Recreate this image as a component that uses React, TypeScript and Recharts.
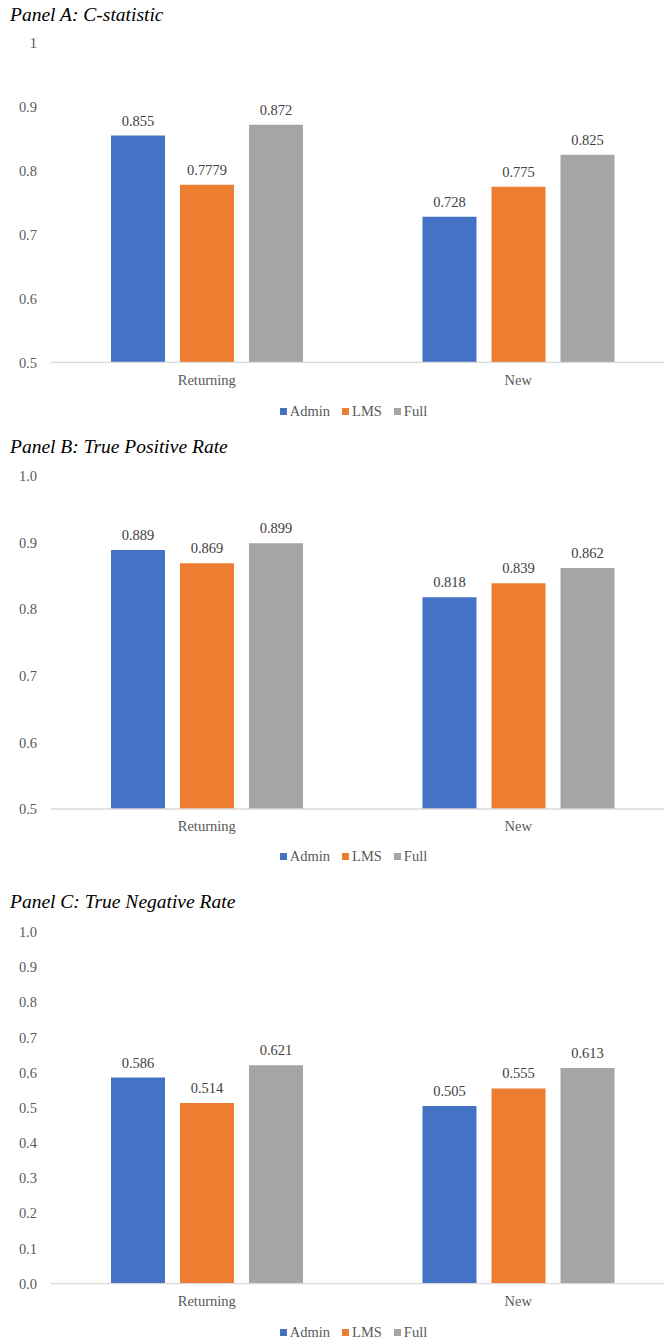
import React from 'react';
import { BarChart, Bar, XAxis, YAxis, Legend, LabelList } from 'recharts';

const categories = ['Returning', 'New'];
const seriesNames = ['Admin', 'LMS', 'Full'];
const seriesColors = ['#4472C4', '#ED7D31', '#A5A5A5'];

// Panel A: C-statistic
const cStatAdmin = [0.855, 0.728];
const cStatLms = [0.7779, 0.775];
const cStatFull = [0.872, 0.825];
const cStatTicks = [0.5, 0.6, 0.7, 0.8, 0.9, 1];

// Panel B: true positive rate
const tprAdmin = [0.889, 0.818];
const tprLms = [0.869, 0.839];
const tprFull = [0.899, 0.862];
const tprTicks = [0.5, 0.6, 0.7, 0.8, 0.9, 1.0];

// Panel C: true negative rate
const tnrAdmin = [0.586, 0.505];
const tnrLms = [0.514, 0.555];
const tnrFull = [0.621, 0.613];
const tnrTicks = [0, 0.1, 0.2, 0.3, 0.4, 0.5, 0.6, 0.7, 0.8, 0.9, 1.0];

const FONT = '"Liberation Serif", "Times New Roman", serif';
const TEXT_GRAY = '#595959';

const buildRows = (admin: number[], lms: number[], full: number[]) =>
  categories.map((category, i) => ({
    category,
    Admin: admin[i],
    LMS: lms[i],
    Full: full[i],
  }));

const LegendContent = () => (
  <div
    style={{
      display: 'flex',
      justifyContent: 'center',
      fontFamily: FONT,
      fontSize: 14.5,
      color: TEXT_GRAY,
      lineHeight: '17px',
    }}
  >
    {seriesNames.map((name, i) => (
      <span key={name} style={{ display: 'flex', alignItems: 'center', marginRight: i < seriesNames.length - 1 ? 12 : 0 }}>
        <span style={{ width: 7, height: 7, background: seriesColors[i], marginRight: 3, display: 'inline-block' }} />
        {name}
      </span>
    ))}
  </div>
);

interface PanelProps {
  title: string;
  rows: any[];
  ticks: number[];
  formatTick: (v: number) => string;
  titleY: number;
  plotTop: number;
  plotBottom: number;
  legendY: number;
}

function Panel({ title, rows, ticks, formatTick, titleY, plotTop, plotBottom, legendY }: PanelProps) {
  const marginTop = 10;
  const xAxisHeight = 30;
  const chartTop = plotTop - marginTop;
  const plotHeight = plotBottom - plotTop;
  const chartHeight = marginTop + plotHeight + xAxisHeight + 50;
  const tickStyle = { fill: TEXT_GRAY, fontSize: 14.5, fontFamily: FONT };

  return (
    <>
      <div
        style={{
          position: 'absolute',
          left: 10,
          top: titleY - 11,
          fontFamily: FONT,
          fontStyle: 'italic',
          fontSize: 19.5,
          lineHeight: '22px',
          color: '#000',
          whiteSpace: 'nowrap',
        }}
      >
        {title}
      </div>
      <div style={{ position: 'absolute', left: 0, top: chartTop }}>
        <BarChart
          width={674}
          height={chartHeight}
          data={rows}
          margin={{ top: marginTop, right: 0, bottom: 50, left: 0 }}
          barSize={54}
          barGap={15}
        >
          <XAxis
            dataKey="category"
            height={xAxisHeight}
            tickLine={false}
            tickMargin={6}
            axisLine={{ stroke: '#D9D9D9', strokeWidth: 1.3 }}
            tick={tickStyle}
          />
          <YAxis
            width={51}
            type="number"
            domain={[ticks[0], ticks[ticks.length - 1]]}
            ticks={ticks}
            interval={0}
            tickFormatter={formatTick}
            axisLine={false}
            tickLine={false}
            tickMargin={8}
            tick={tickStyle}
          />
          {/* legend sits below the category labels without shrinking the plot */}
          <Legend
            verticalAlign="middle"
            align="center"
            wrapperStyle={{ left: 0, width: 707, top: legendY - chartTop - 9 }}
            content={() => <LegendContent />}
          />
          {seriesNames.map((name, i) => (
            <Bar key={name} dataKey={name} fill={seriesColors[i]} isAnimationActive={false}>
              <LabelList
                dataKey={name}
                position="top"
                offset={10}
                formatter={(v: any) => String(v)}
                fill="#404040"
                fontSize={14.5}
                fontFamily={FONT}
              />
            </Bar>
          ))}
        </BarChart>
      </div>
    </>
  );
}

export default function App() {
  return (
    <div
      style={{
        position: 'absolute',
        left: 0,
        top: 0,
        width: 664,
        height: 1340,
        overflow: 'hidden',
        background: '#fff',
        fontFamily: FONT,
      }}
    >
      <Panel
        title="Panel A: C-statistic"
        rows={buildRows(cStatAdmin, cStatLms, cStatFull)}
        ticks={cStatTicks}
        formatTick={(v) => (v === 1 ? '1' : v.toFixed(1))}
        titleY={15}
        plotTop={43.3}
        plotBottom={362.7}
        legendY={411.7}
      />
      <Panel
        title="Panel B: True Positive Rate"
        rows={buildRows(tprAdmin, tprLms, tprFull)}
        ticks={tprTicks}
        formatTick={(v) => v.toFixed(1)}
        titleY={446.7}
        plotTop={476}
        plotBottom={809}
        legendY={857}
      />
      <Panel
        title="Panel C: True Negative Rate"
        rows={buildRows(tnrAdmin, tnrLms, tnrFull)}
        ticks={tnrTicks}
        formatTick={(v) => v.toFixed(1)}
        titleY={901.7}
        plotTop={931.7}
        plotBottom={1283.3}
        legendY={1333}
      />
    </div>
  );
}
